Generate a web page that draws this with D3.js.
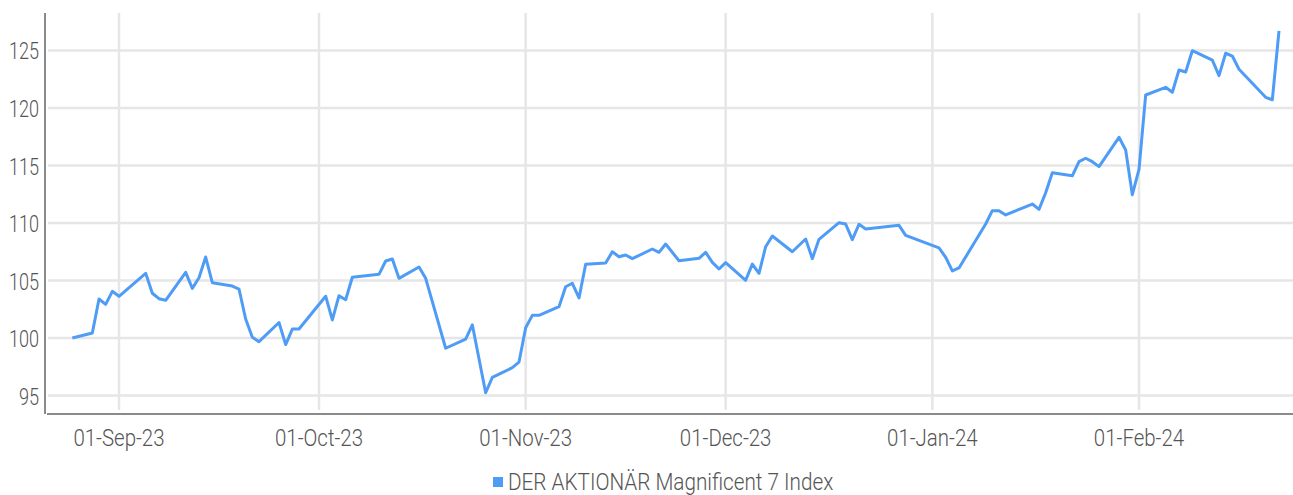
<!DOCTYPE html>
<html>
<head>
<meta charset="utf-8">
<script src="https://cdn.jsdelivr.net/npm/d3@7"></script>
<style>
  body { margin: 0; background: #fff; }
  svg text { font-family: "Roboto", "Liberation Sans", sans-serif; font-weight: 300; fill: #555; }
</style>
</head>
<body>
<div id="chart"></div>
<script>
// index values (trading days)
const dates = [
  "2023-08-25","2023-08-28","2023-08-29","2023-08-30","2023-08-31","2023-09-01",
  "2023-09-05","2023-09-06","2023-09-07","2023-09-08","2023-09-11","2023-09-12",
  "2023-09-13","2023-09-14","2023-09-15","2023-09-18","2023-09-19","2023-09-20",
  "2023-09-21","2023-09-22","2023-09-25","2023-09-26","2023-09-27","2023-09-28",
  "2023-10-02","2023-10-03","2023-10-04","2023-10-05","2023-10-06","2023-10-10",
  "2023-10-11","2023-10-12","2023-10-13","2023-10-16","2023-10-17","2023-10-20",
  "2023-10-23","2023-10-24","2023-10-26","2023-10-27","2023-10-30","2023-10-31",
  "2023-11-01","2023-11-02","2023-11-03","2023-11-06","2023-11-07","2023-11-08",
  "2023-11-09","2023-11-10","2023-11-13","2023-11-14","2023-11-15","2023-11-16",
  "2023-11-17","2023-11-20","2023-11-21","2023-11-22","2023-11-24","2023-11-27",
  "2023-11-28","2023-11-29","2023-11-30","2023-12-01","2023-12-04","2023-12-05",
  "2023-12-06","2023-12-07","2023-12-08","2023-12-11","2023-12-13","2023-12-14",
  "2023-12-15","2023-12-18","2023-12-19","2023-12-20","2023-12-21","2023-12-22",
  "2023-12-27","2023-12-28","2024-01-02","2024-01-03","2024-01-04","2024-01-05",
  "2024-01-09","2024-01-10","2024-01-11","2024-01-12","2024-01-16","2024-01-17",
  "2024-01-18","2024-01-19","2024-01-22","2024-01-23","2024-01-24","2024-01-25",
  "2024-01-26","2024-01-29","2024-01-30","2024-01-31","2024-02-01","2024-02-02",
  "2024-02-05","2024-02-06","2024-02-07","2024-02-08","2024-02-09","2024-02-12",
  "2024-02-13","2024-02-14","2024-02-15","2024-02-16","2024-02-20","2024-02-21",
  "2024-02-22"
];
const values = [
  100.0, 100.43, 103.39, 102.93, 104.06, 103.63,
  105.63, 103.89, 103.42, 103.28, 105.71, 104.32,
  105.24, 107.04, 104.81, 104.52, 104.26, 101.65,
  100.06, 99.68, 101.35, 99.43, 100.78, 100.78,
  103.63, 101.57, 103.68, 103.33, 105.28, 105.54,
  106.70, 106.87, 105.19, 106.17, 105.19, 99.11,
  99.91, 101.15, 95.24, 96.58, 97.42, 97.91,
  100.90, 101.97, 101.97, 102.72, 104.46, 104.76,
  103.48, 106.41, 106.52, 107.50, 107.07, 107.22,
  106.90, 107.74, 107.45, 108.17, 106.72, 106.93,
  107.45, 106.58, 106.00, 106.55, 105.02, 106.43,
  105.63, 107.94, 108.87, 107.50, 108.61, 106.90,
  108.58, 110.03, 109.91, 108.55, 109.89, 109.48,
  109.80, 108.93, 107.83, 107.02, 105.83, 106.09,
  109.91, 111.07, 111.07, 110.70, 111.65, 111.19,
  112.63, 114.37, 114.11, 115.33, 115.63, 115.33,
  114.90, 117.45, 116.35, 112.46, 114.67, 121.13,
  121.80, 121.37, 123.30, 123.13, 124.98, 124.17,
  122.81, 124.76, 124.52, 123.37, 120.93, 120.72,
  126.70
];
const yTicks = [95, 100, 105, 110, 115, 120, 125];
const xTickDates = ["2023-09-01","2023-10-01","2023-11-01","2023-12-01","2024-01-01","2024-02-01"];
const seriesName = "DER AKTIONÄR Magnificent 7 Index";

const W = 1293, H = 495;
const plot = { left: 45, right: 1293, top: 13, bottom: 413 };
const lineColor = "#4f9cf6";

const parse = d3.utcParse("%Y-%m-%d");
const fmt = d3.utcFormat("%d-%b-%y");
const data = dates.map((d, i) => ({ date: parse(d), value: values[i] }));

// the original font is a narrow one, squeeze Roboto to match its width
function narrow(sel, k) {
  sel.each(function() {
    const len = this.getComputedTextLength();
    d3.select(this).attr("textLength", len * k).attr("lengthAdjust", "spacingAndGlyphs");
  });
}

const svg = d3.select("#chart").append("svg")
  .attr("width", W).attr("height", H);

// x: Sep 1 -> Feb 1 spans 153 days; the scale extends past both ends
const x = d3.scaleUtc()
  .domain([parse("2023-09-01"), parse("2024-02-01")])
  .range([119, 1139]);
const y = d3.scaleLinear()
  .domain([93.48, 128.26])
  .range([plot.bottom, plot.top]);

// grid
svg.append("g")
  .selectAll("line")
  .data(yTicks)
  .join("line")
    .attr("x1", plot.left + 3).attr("x2", plot.right)
    .attr("y1", d => y(d)).attr("y2", d => y(d))
    .attr("stroke", "#e6e6e6").attr("stroke-width", 2.5);

svg.append("g")
  .selectAll("line")
  .data(xTickDates.map(parse))
  .join("line")
    .attr("x1", d => x(d)).attr("x2", d => x(d))
    .attr("y1", plot.top).attr("y2", plot.bottom - 3)
    .attr("stroke", "#e6e6e6").attr("stroke-width", 2.5);

// axis lines
svg.append("line")
  .attr("x1", plot.left).attr("x2", plot.left)
  .attr("y1", plot.top).attr("y2", plot.bottom + 1)
  .attr("stroke", "#8a8a8a").attr("stroke-width", 2);
svg.append("line")
  .attr("x1", plot.left + 2).attr("x2", plot.right)
  .attr("y1", plot.bottom + 1).attr("y2", plot.bottom + 1)
  .attr("stroke", "#8a8a8a").attr("stroke-width", 2);

// tick labels
svg.append("g")
  .selectAll("text")
  .data(yTicks)
  .join("text")
    .attr("x", 39)
    .attr("y", d => y(d) + 9)
    .attr("text-anchor", "end")
    .style("font-size", "23.5px")
    .text(d => d)
    .call(narrow, 0.77);

svg.append("g")
  .selectAll("text")
  .data(xTickDates.map(parse))
  .join("text")
    .attr("x", d => x(d))
    .attr("y", 446)
    .attr("text-anchor", "middle")
    .style("font-size", "23.5px")
    .text(d => fmt(d))
    .call(narrow, 0.87);

// the series
const line = d3.line()
  .x(d => x(d.date))
  .y(d => y(d.value));

svg.append("path")
  .datum(data)
  .attr("d", line)
  .attr("fill", "none")
  .attr("stroke", lineColor)
  .attr("stroke-width", 3)
  .attr("stroke-linejoin", "round");

// legend
const legend = svg.append("g").attr("transform", "translate(493,477)");
legend.append("rect")
  .attr("width", 10).attr("height", 10)
  .attr("fill", lineColor);
legend.append("text")
  .attr("x", 15).attr("y", 13)
  .style("font-size", "23px")
  .text(seriesName)
  .call(narrow, 0.9);
</script>
</body>
</html>
